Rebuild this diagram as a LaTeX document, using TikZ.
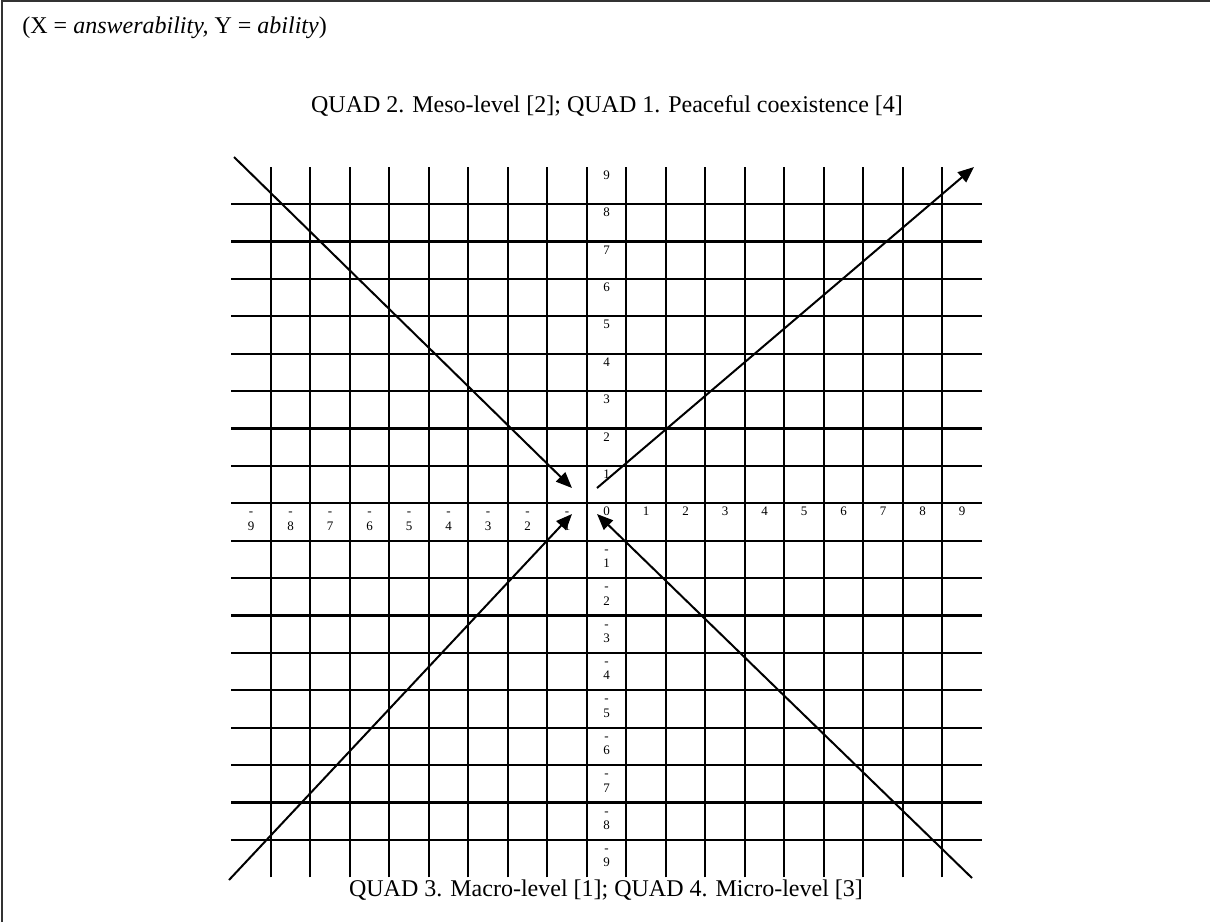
\documentclass[tikz,border=0pt]{standalone}
\usepackage{fontspec}
\setmainfont{Liberation Serif}
\usetikzlibrary{arrows.meta}

% hyphen set above the digit, baseline on the first line
\newcommand{\negTick}[1]{\vtop{\baselineskip=7.25pt\halign{\hfil##\hfil\cr-\cr#1\cr}}}

\begin{document}
\begin{tikzpicture}[
    x=0.5pt, y=-0.5pt,
    font=\fontsize{12pt}{14pt}\selectfont,
    >={Triangle[length=8pt,width=6.5pt]},
    frameLine/.style={
        draw=black!80,
        line width=1.1pt
    },
    gridLine/.style={
        draw=black,
        line width=1.1pt
    },
    trendArrow/.style={
        draw=black,
        line width=1pt,
        ->
    },
    tickLabel/.style={
        inner sep=0pt,
        anchor=base,
        yshift=-6.25pt,
        font=\fontsize{6.5pt}{7.25pt}\selectfont
    },
    quadLabel/.style={
        inner sep=0pt,
        anchor=base
    }
]

\useasboundingbox (0,0) rectangle (1210,922);

% ==================== FRAME & TEXTS ====================
\draw[frameLine] (2,922) -- (2,1) -- (1210,1);

\node[anchor=base west, inner sep=0pt] (axisNote) at (22,33) {(X = \textit{answerability,} Y = \textit{ability})};
\node[quadLabel] (quadTop) at (607,112) {QUAD 2. Meso-level [2]; QUAD 1. Peaceful coexistence [4]};
\node[quadLabel] (quadBottom) at (606,896) {QUAD 3. Macro-level [1]; QUAD 4. Micro-level [3]};

% ==================== GRID ====================
\begin{scope}[shift={(606.5,522)}, x=19.75pt, y=18.7pt]
    \foreach \k in {-8.5,-7.5,...,8.5} {
        \draw[gridLine] (\k,-9.5) -- (\k,9.5);
        \draw[gridLine] (-9.5,\k) -- (9.5,\k);
    }

    % axis numbers
    \node[tickLabel] (tick0) at (0,0.5) {0};
    \foreach \n in {1,...,9} {
        \node[tickLabel] (yPos\n) at (0,\n+0.5) {\n};
        \node[tickLabel] (yNeg\n) at (0,-\n+0.5) {\negTick{\n}};
        \node[tickLabel] (xPos\n) at (\n,0.5) {\n};
        \node[tickLabel] (xNeg\n) at (-\n,0.5) {\negTick{\n}};
    }
\end{scope}

% ==================== ARROWS ====================
\coordinate (nwStart) at (234,157);
\coordinate (nwTip) at (572,488);
\coordinate (neStart) at (597,488);
\coordinate (neTip) at (974,167);
\coordinate (swStart) at (229,880);
\coordinate (swTip) at (572,514);
\coordinate (seStart) at (972,878);
\coordinate (seTip) at (597,514);

\draw[trendArrow] (nwStart) -- (nwTip);
\draw[trendArrow] (neStart) -- (neTip);
\draw[trendArrow] (swStart) -- (swTip);
\draw[trendArrow] (seStart) -- (seTip);

\end{tikzpicture}
\end{document}
